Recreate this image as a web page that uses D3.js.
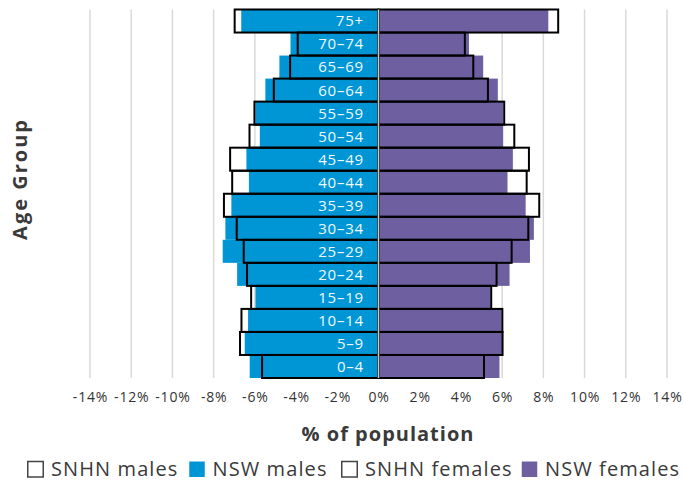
<!DOCTYPE html>
<html>
<head>
<meta charset="utf-8">
<script src="https://cdn.jsdelivr.net/npm/d3@7"></script>
<style>
  body { margin: 0; background: #fff; }
  svg { display: block; }
</style>
</head>
<body>
<script>
// age groups, bottom to top
var ageGroups = ["0–4", "5–9", "10–14", "15–19", "20–24", "25–29", "30–34", "35–39",
    "40–44", "45–49", "50–54", "55–59", "60–64", "65–69", "70–74", "75+"];

// % of population
var snhnMales   = [5.65, 6.72, 6.65, 6.18, 6.38, 6.54, 6.88, 7.50, 7.10, 7.20, 6.26, 6.02, 5.08, 4.29, 3.92, 6.98];
var nswMales    = [6.25, 6.49, 6.33, 5.97, 6.86, 7.56, 7.43, 7.14, 6.29, 6.41, 5.76, 5.97, 5.49, 4.81, 4.27, 6.66];
var snhnFemales = [5.12, 6.02, 6.01, 5.47, 5.73, 6.46, 7.27, 7.80, 7.19, 7.30, 6.59, 6.10, 5.31, 4.60, 4.19, 8.72];
var nswFemales  = [5.87, 6.00, 5.97, 5.44, 6.36, 7.35, 7.54, 7.14, 6.26, 6.52, 6.05, 6.05, 5.79, 5.08, 4.39, 8.24];

var xTicks = [-14, -12, -10, -8, -6, -4, -2, 0, 2, 4, 6, 8, 10, 12, 14];

var legendItems = [
    { label: "SNHN males", fill: "#fff", stroke: "#444" },
    { label: "NSW males", fill: "#0096d6", stroke: "none" },
    { label: "SNHN females", fill: "#fff", stroke: "#444" },
    { label: "NSW females", fill: "#6e5fa1", stroke: "none" }
];

var width = 684;
var height = 481;
var blue = "#0096d6";
var purple = "#6e5fa1";
var font = "'Open Sans', sans-serif";

var svg = d3.select('body')
    .append('svg')
    .attr('width', width)
    .attr('height', height);

var x = d3.scaleLinear()
    .domain([-14, 14])
    .range([90, 667]);

var y = d3.scaleBand()
    .domain(ageGroups.slice().reverse())
    .range([9.5, 378])
    .padding(0);

// gridlines
svg.append('g')
    .selectAll('line')
    .data(xTicks.filter(function (d) { return d !== 0; }))
    .enter().append('line')
    .attr('x1', function (d) { return x(d); })
    .attr('x2', function (d) { return x(d); })
    .attr('y1', 9.5)
    .attr('y2', 378)
    .attr('stroke', '#d9d9d9')
    .attr('stroke-width', 1.5);

// NSW bars
svg.append('g')
    .selectAll('rect')
    .data(ageGroups)
    .enter().append('rect')
    .attr('x', function (d, i) { return x(-nswMales[i]); })
    .attr('width', function (d, i) { return x(0) - x(-nswMales[i]); })
    .attr('y', function (d) { return y(d); })
    .attr('height', y.bandwidth())
    .attr('fill', blue);

svg.append('g')
    .selectAll('rect')
    .data(ageGroups)
    .enter().append('rect')
    .attr('x', x(0))
    .attr('width', function (d, i) { return x(nswFemales[i]) - x(0); })
    .attr('y', function (d) { return y(d); })
    .attr('height', y.bandwidth())
    .attr('fill', purple);

// SNHN outlines
svg.append('g')
    .selectAll('rect')
    .data(ageGroups)
    .enter().append('rect')
    .attr('x', function (d, i) { return x(-snhnMales[i]); })
    .attr('width', function (d, i) { return x(0) - x(-snhnMales[i]); })
    .attr('y', function (d) { return y(d); })
    .attr('height', y.bandwidth())
    .attr('fill', 'none')
    .attr('stroke', '#000')
    .attr('stroke-width', 2);

svg.append('g')
    .selectAll('rect')
    .data(ageGroups)
    .enter().append('rect')
    .attr('x', x(0))
    .attr('width', function (d, i) { return x(snhnFemales[i]) - x(0); })
    .attr('y', function (d) { return y(d); })
    .attr('height', y.bandwidth())
    .attr('fill', 'none')
    .attr('stroke', '#000')
    .attr('stroke-width', 2);

// zero line
svg.append('line')
    .attr('x1', x(0))
    .attr('x2', x(0))
    .attr('y1', 9.5)
    .attr('y2', 378)
    .attr('stroke', '#c8c8c8')
    .attr('stroke-width', 1.5);

// age labels
svg.append('g')
    .selectAll('text')
    .data(ageGroups)
    .enter().append('text')
    .attr('x', 364)
    .attr('y', function (d) { return y(d) + y.bandwidth() / 2; })
    .attr('dy', '0.36em')
    .attr('text-anchor', 'end')
    .attr('font-family', font)
    .attr('font-size', 15)
    .attr('letter-spacing', 0.8)
    .attr('fill', '#eef8fd')
    .text(function (d) { return d; });

// x axis
var xAxis = svg.append('g')
    .attr('transform', 'translate(0,' + 389 + ')')
    .call(d3.axisBottom(x)
        .tickValues(xTicks)
        .tickSize(0)
        .tickFormat(function (d) { return d + "%"; }));

xAxis.select('.domain').remove();
xAxis.selectAll('text')
    .attr('font-family', font)
    .attr('font-size', 14)
    .attr('letter-spacing', 0.8)
    .attr('fill', '#333');

// axis titles
svg.append('text')
    .attr('x', 388)
    .attr('y', 441)
    .attr('text-anchor', 'middle')
    .attr('font-family', font)
    .attr('font-weight', 'bold')
    .attr('font-size', 20)
    .attr('letter-spacing', 1)
    .attr('fill', '#3a3a3a')
    .text("% of population");

svg.append('text')
    .attr('transform', 'translate(27,179) rotate(-90)')
    .attr('text-anchor', 'middle')
    .attr('font-family', font)
    .attr('font-weight', 'bold')
    .attr('font-size', 20)
    .attr('letter-spacing', 2)
    .attr('fill', '#3a3a3a')
    .text("Age Group");

// legend
var legendX = [27, 188.5, 341, 521];
var legend = svg.append('g');
legendItems.forEach(function (item, i) {
    legend.append('rect')
        .attr('x', legendX[i] + 0.75)
        .attr('y', 461.5)
        .attr('width', 15.5)
        .attr('height', 15.5)
        .attr('fill', item.fill)
        .attr('stroke', item.stroke)
        .attr('stroke-width', 1.5);
    legend.append('text')
        .attr('x', legendX[i] + 24)
        .attr('y', 476)
        .attr('font-family', font)
        .attr('font-size', 20)
        .attr('letter-spacing', 1.1)
        .attr('fill', '#3a3a3a')
        .text(item.label);
});
</script>
</body>
</html>
